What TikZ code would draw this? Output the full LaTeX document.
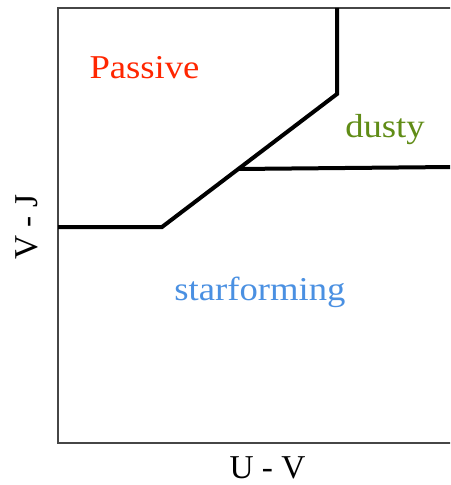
\documentclass[tikz,border=0pt]{standalone}
\usepackage{fontspec}
\setmainfont{Liberation Serif}
\newfontfamily\labfont[FakeStretch=1.1]{Liberation Serif}
\definecolor{passred}{RGB}{255,38,0}
\definecolor{dustgreen}{RGB}{96,140,22}
\definecolor{starblue}{RGB}{74,144,226}
\definecolor{boxgray}{RGB}{70,70,70}
\begin{document}
\begin{tikzpicture}[x=0.75pt,y=-0.75pt,
  region/.style={font=\labfont\fontsize{25}{30}\selectfont, anchor=base, inner sep=0pt},
  axislab/.style={font=\fontsize{25}{30}\selectfont, anchor=base, inner sep=0pt},
  border/.style={draw=boxgray, line width=1.2pt},
  cut/.style={draw=black, line width=3pt, line join=miter}]
\useasboundingbox (0,0) rectangle (450,485);
\fill[white] (0,0) rectangle (450,485);
\begin{scope}
\clip (0,0) rectangle (450,485);
\draw[border] (58,8) rectangle (460,443);
\coordinate (a) at (58,227);
\coordinate (b) at (162,227);
\coordinate (c) at (337,94);
\coordinate (d) at (337,8);
\coordinate (e) at (238,169);
\coordinate (f) at (452,167);
\draw[cut] (a) -- (b) -- (c) -- (d);
\draw[cut] (e) -- (f);
\end{scope}
\node[region, text=passred] (passive) at (144.5,79) {Passive};
\node[region, text=dustgreen] (dusty) at (385,137) {dusty};
\node[region, text=starblue] (star) at (260,300) {starforming};
\node[axislab] (uv) at (267.5,478) {U - V};
\node[axislab, rotate=90] (vj) at (37,227) {V - J};
\end{tikzpicture}
\end{document}
